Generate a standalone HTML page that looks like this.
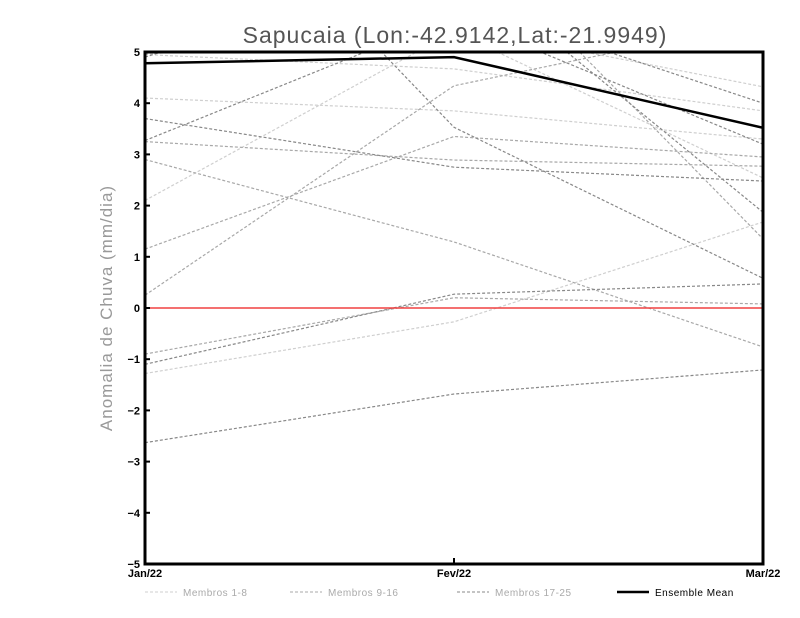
<!DOCTYPE html>
<html><head><meta charset="utf-8"><style>
body{margin:0;background:#fff;font-family:"Liberation Sans",sans-serif}
svg{display:block}
</style></head><body>
<svg id="chart" width="800" height="618" xmlns="http://www.w3.org/2000/svg">
<defs><clipPath id="plotclip"><rect x="145" y="52" width="618" height="512"/></clipPath></defs>
<text x="455" y="43" text-anchor="middle" font-size="23" fill="#555" font-family="Liberation Sans, sans-serif" letter-spacing="1">Sapucaia (Lon:-42.9142,Lat:-21.9949)</text>
<text transform="translate(112,308) rotate(-90)" text-anchor="middle" font-size="17" fill="#999" letter-spacing="1">Anomalia de Chuva (mm/dia)</text>
<g id="series" clip-path="url(#plotclip)"></g>
<g id="axes"></g>
<g id="legend"></g>
</svg>
<script>
const categories=["Jan/22","Fev/22","Mar/22"];
const yTicks=[-5,-4,-3,-2,-1,0,1,2,3,4,5];
const lightMembers=[[4.1,3.85,3.3],[2.1,5.4,2.54],[-1.28,-0.27,1.68],[4.95,5.5,4.32],[4.95,4.67,3.85]];
const midMembers=[[2.9,1.29,-0.76],[1.15,3.35,2.95],[-0.9,0.2,0.08],[0.25,4.34,5.6],[3.25,2.89,2.77],[4.95,7.5,1.35]];
const darkMembers=[[-2.63,-1.68,-1.21],[-1.1,0.27,0.47],[3.7,2.75,2.48],[3.27,5.7,3.2],[9.8,3.53,0.58],[4.9,6.8,1.87],[5.3,6.0,4.0]];
const meanValues=[4.78,4.9,3.52];
const X0=145,X1=763,Y0=564,Y1=52;
const xs=i=>X0+(X1-X0)*i/(categories.length-1);
const ys=v=>Y0-(v+5)/10*(Y0-Y1);
const NS="http://www.w3.org/2000/svg";
const mk=(t,a,p)=>{const e=document.createElementNS(NS,t);for(const k in a)e.setAttribute(k,a[k]);p.appendChild(e);return e;};
const S=document.getElementById('series'),A=document.getElementById('axes'),L=document.getElementById('legend');
function drawLines(arr,color,nm){arr.forEach((d,j)=>{
 const p=mk('polyline',{points:d.map((v,i)=>xs(i)+','+ys(v)).join(' '),fill:'none',stroke:color,'stroke-width':1.2,'stroke-dasharray':'3,2'},S);
 
 });}
drawLines(lightMembers,'#cfcfcf','member-light');
drawLines(midMembers,'#a8a8a8','member-mid');
drawLines(darkMembers,'#888','member-dark');
const z=mk('line',{x1:X0,x2:X1,y1:ys(0),y2:ys(0),stroke:'#f04040','stroke-width':1.5},S);


const m=mk('polyline',{points:meanValues.map((v,i)=>xs(i)+','+ys(v)).join(' '),fill:'none',stroke:'#000','stroke-width':2.5},S);


const fr=mk('rect',{x:X0,y:Y1,width:X1-X0,height:Y0-Y1,fill:'none',stroke:'#000','stroke-width':3},A);


yTicks.forEach(v=>{const t=mk('text',{x:140,y:ys(v)+4,'text-anchor':'end','font-size':11,'font-weight':'bold',fill:'#000'},A);t.textContent=String(v).replace('-','\u2212');
 
 
 const l=mk('line',{x1:X0,x2:X0+5,y1:ys(v),y2:ys(v),stroke:'#000','stroke-width':2},A);
 
 });
categories.forEach((c,i)=>{const t=mk('text',{x:xs(i),y:577,'text-anchor':'middle','font-size':11,'font-weight':'bold',fill:'#000'},A);t.textContent=c;
 
 
 const l=mk('line',{x1:xs(i),x2:xs(i),y1:Y0,y2:Y0-6,stroke:'#000','stroke-width':2},A);
 
 });
const leg=[["Membros 1-8",145,'#cfcfcf',1,'3,2'],["Membros 9-16",290,'#a8a8a8',1,'3,2'],["Membros 17-25",457,'#888',1,'3,2'],["Ensemble Mean",617,'#000',2.5,'']];
leg.forEach(e=>{const g=mk('g',{},L);
 
 
 mk('line',{x1:e[1],x2:e[1]+32,y1:592,y2:592,stroke:e[2],'stroke-width':e[3],'stroke-dasharray':e[4]},g);
 const t=mk('text',{x:e[1]+38,y:596,'font-size':10,fill:e[0]==="Ensemble Mean"?'#000':'#aaa','letter-spacing':'0.5'},g);t.textContent=e[0];});
</script>
</body></html>
